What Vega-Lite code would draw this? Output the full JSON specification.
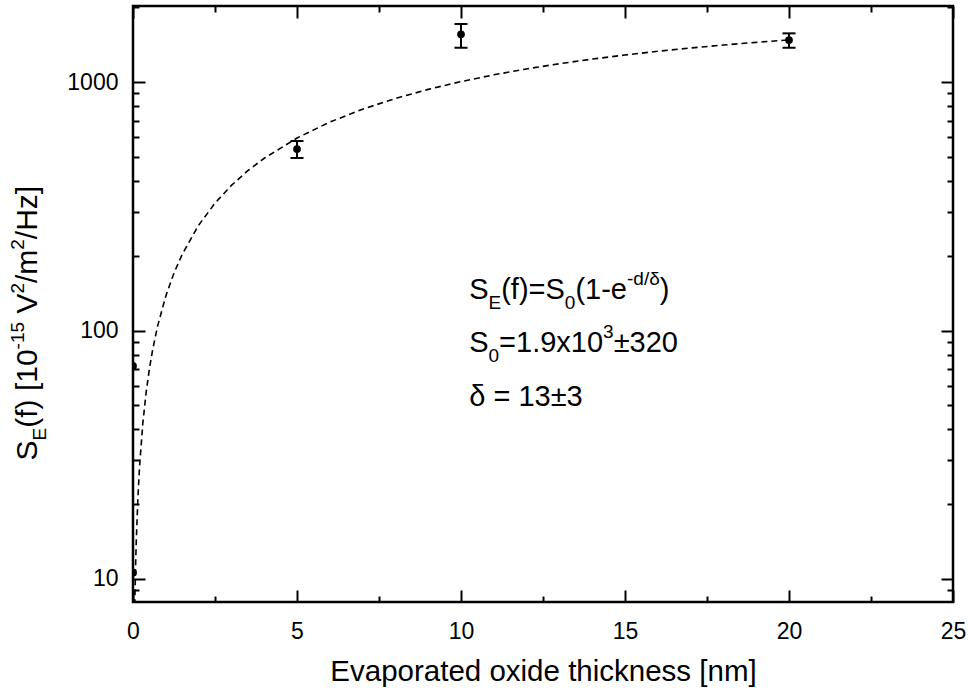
{
  "$schema": "https://vega.github.io/schema/vega-lite/v6.json",
  "width": 820,
  "height": 596,
  "autosize": {"type": "none"},
  "padding": {"left": 133, "top": 6, "right": 16, "bottom": 90},
  "background": "white",
  "data": {"values": [{}]},
  "datasets": {
    "fit": [
      {"d": 0.055, "s": 7.84}, {"d": 0.06, "s": 8.55}, {"d": 0.08, "s": 11.39}, {"d": 0.1, "s": 14.23},
      {"d": 0.15, "s": 21.31}, {"d": 0.2, "s": 28.36}, {"d": 0.3, "s": 42.38}, {"d": 0.4, "s": 56.29},
      {"d": 0.5, "s": 70.1}, {"d": 0.6, "s": 83.8}, {"d": 0.75, "s": 104.2}, {"d": 1, "s": 137.6},
      {"d": 1.25, "s": 170.4}, {"d": 1.5, "s": 202.6}, {"d": 2, "s": 265.3}, {"d": 2.5, "s": 325.6},
      {"d": 3, "s": 383.7}, {"d": 3.5, "s": 439.7}, {"d": 4, "s": 493.5}, {"d": 5, "s": 595.3},
      {"d": 6, "s": 689.9}, {"d": 7, "s": 777.5}, {"d": 8, "s": 858.8}, {"d": 9, "s": 934.2},
      {"d": 10, "s": 1004.1}, {"d": 11, "s": 1069.1}, {"d": 12, "s": 1129.2}, {"d": 13, "s": 1185.0},
      {"d": 14, "s": 1236.9}, {"d": 15, "s": 1284.9}, {"d": 16, "s": 1329.5}, {"d": 17, "s": 1370.8},
      {"d": 18, "s": 1409.2}, {"d": 19, "s": 1444.7}, {"d": 20, "s": 1477.7}
    ],
    "meas": [
      {"d": 0, "s": 72},
      {"d": 0, "s": 10.6},
      {"d": 5, "s": 537.6},
      {"d": 10, "s": 1556},
      {"d": 20, "s": 1476}
    ],
    "err": [
      {"d": 5, "lo": 494.6, "hi": 578.8},
      {"d": 10, "lo": 1374, "hi": 1712},
      {"d": 20, "lo": 1374, "hi": 1570}
    ]
  },
  "config": {
    "view": {"stroke": "black", "strokeWidth": 2.5},
    "font": "Liberation Sans",
    "axis": {
      "grid": false,
      "domain": false,
      "labelFont": "Liberation Sans",
      "labelColor": "black",
      "tickColor": "black",
      "tickWidth": 2,
      "titleFont": "Liberation Sans",
      "titleColor": "black"
    }
  },
  "resolve": {"axis": {"x": "independent", "y": "independent"}},
  "layer": [
    {
      "data": {"name": "fit"},
      "mark": {"type": "line", "color": "black", "strokeWidth": 1.6, "strokeDash": [6, 4], "clip": true},
      "encoding": {
        "x": {"field": "d", "type": "quantitative",
          "scale": {"domain": [0, 25], "nice": false, "zero": false},
          "axis": {"orient": "bottom", "values": [0, 5, 10, 15, 20, 25], "ticks": false, "labelFontSize": 23, "labelPadding": 18, "labelFlush": false, "labelOverlap": false,
            "title": "Evaporated oxide thickness [nm]", "titleFontSize": 29.5, "titleFontWeight": "normal", "titlePadding": 14}},
        "y": {"field": "s", "type": "quantitative",
          "scale": {"type": "log", "domain": [8.08, 2023], "nice": false, "zero": false},
          "axis": {"orient": "left", "values": [10, 100, 1000], "format": "d", "ticks": false, "labelFontSize": 23, "labelPadding": 15, "labelOverlap": false, "title": null}}
      }
    },
    {
      "data": {"name": "err"},
      "mark": {"type": "rule", "color": "black", "strokeWidth": 2},
      "encoding": {
        "x": {"field": "d", "type": "quantitative",
          "scale": {"domain": [0, 25], "nice": false, "zero": false},
          "axis": {"orient": "bottom", "values": [0, 5, 10, 15, 20, 25], "tickSize": -12, "labels": false, "title": null}},
        "y": {"field": "lo", "type": "quantitative",
          "scale": {"type": "log", "domain": [8.08, 2023], "nice": false, "zero": false},
          "axis": {"orient": "left", "values": [10, 100, 1000], "tickSize": -12, "labels": false, "title": null}},
        "y2": {"field": "hi"}
      }
    },
    {
      "data": {"name": "err"},
      "mark": {"type": "tick", "orient": "horizontal", "color": "black", "size": 13, "thickness": 2, "opacity": 1},
      "encoding": {
        "x": {"field": "d", "type": "quantitative",
          "scale": {"domain": [0, 25], "nice": false, "zero": false},
          "axis": {"orient": "bottom", "values": [2.5, 7.5, 12.5, 17.5, 22.5], "tickSize": -6, "labels": false, "title": null}},
        "y": {"field": "lo", "type": "quantitative",
          "scale": {"type": "log", "domain": [8.08, 2023], "nice": false, "zero": false},
          "axis": {"orient": "left", "values": [9, 20, 30, 40, 50, 60, 70, 80, 90, 200, 300, 400, 500, 600, 700, 800, 900, 2000], "tickSize": -6, "labels": false, "title": null}}
      }
    },
    {
      "data": {"name": "err"},
      "mark": {"type": "tick", "orient": "horizontal", "color": "black", "size": 13, "thickness": 2, "opacity": 1},
      "encoding": {
        "x": {"field": "d", "type": "quantitative",
          "scale": {"domain": [0, 25], "nice": false, "zero": false},
          "axis": {"orient": "top", "values": [2.5, 7.5, 12.5, 17.5, 22.5], "tickSize": -6, "labels": false, "title": null}},
        "y": {"field": "hi", "type": "quantitative",
          "scale": {"type": "log", "domain": [8.08, 2023], "nice": false, "zero": false},
          "axis": {"orient": "right", "values": [9, 20, 30, 40, 50, 60, 70, 80, 90, 200, 300, 400, 500, 600, 700, 800, 900, 2000], "tickSize": -6, "labels": false, "title": null}}
      }
    },
    {
      "data": {"name": "meas"},
      "mark": {"type": "circle", "color": "black", "size": 60, "opacity": 1, "clip": true},
      "encoding": {
        "x": {"field": "d", "type": "quantitative",
          "scale": {"domain": [0, 25], "nice": false, "zero": false},
          "axis": {"orient": "top", "values": [0, 5, 10, 15, 20, 25], "tickSize": -12, "labels": false, "title": null}},
        "y": {"field": "s", "type": "quantitative",
          "scale": {"type": "log", "domain": [8.08, 2023], "nice": false, "zero": false},
          "axis": {"orient": "right", "values": [10, 100, 1000], "tickSize": -12, "labels": false, "title": null}}
      }
    },
    {"mark": {"type": "text", "align": "left", "baseline": "alphabetic", "fontSize": 29, "color": "black", "dx": 0},
     "encoding": {"x": {"datum": 10.25, "axis": null}, "y": {"datum": 133.3, "axis": null}, "text": {"value": "S"}}},
    {"mark": {"type": "text", "align": "left", "baseline": "alphabetic", "fontSize": 19, "color": "black", "dx": 19.34, "dy": 10},
     "encoding": {"x": {"datum": 10.25, "axis": null}, "y": {"datum": 133.3, "axis": null}, "text": {"value": "E"}}},
    {"mark": {"type": "text", "align": "left", "baseline": "alphabetic", "fontSize": 29, "color": "black", "dx": 32.01},
     "encoding": {"x": {"datum": 10.25, "axis": null}, "y": {"datum": 133.3, "axis": null}, "text": {"value": "(f)=S"}}},
    {"mark": {"type": "text", "align": "left", "baseline": "alphabetic", "fontSize": 19, "color": "black", "dx": 95.67, "dy": 10},
     "encoding": {"x": {"datum": 10.25, "axis": null}, "y": {"datum": 133.3, "axis": null}, "text": {"value": "0"}}},
    {"mark": {"type": "text", "align": "left", "baseline": "alphabetic", "fontSize": 29, "color": "black", "dx": 106.23},
     "encoding": {"x": {"datum": 10.25, "axis": null}, "y": {"datum": 133.3, "axis": null}, "text": {"value": "(1-e"}}},
    {"mark": {"type": "text", "align": "left", "baseline": "alphabetic", "fontSize": 19, "color": "black", "dx": 157.79, "dy": -14},
     "encoding": {"x": {"datum": 10.25, "axis": null}, "y": {"datum": 133.3, "axis": null}, "text": {"value": "-d/δ"}}},
    {"mark": {"type": "text", "align": "left", "baseline": "alphabetic", "fontSize": 29, "color": "black", "dx": 190.53},
     "encoding": {"x": {"datum": 10.25, "axis": null}, "y": {"datum": 133.3, "axis": null}, "text": {"value": ")"}}},
    {"mark": {"type": "text", "align": "left", "baseline": "alphabetic", "fontSize": 29, "color": "black", "dx": 0},
     "encoding": {"x": {"datum": 10.25, "axis": null}, "y": {"datum": 82.3, "axis": null}, "text": {"value": "S"}}},
    {"mark": {"type": "text", "align": "left", "baseline": "alphabetic", "fontSize": 19, "color": "black", "dx": 19.34, "dy": 10},
     "encoding": {"x": {"datum": 10.25, "axis": null}, "y": {"datum": 82.3, "axis": null}, "text": {"value": "0"}}},
    {"mark": {"type": "text", "align": "left", "baseline": "alphabetic", "fontSize": 29, "color": "black", "dx": 29.9},
     "encoding": {"x": {"datum": 10.25, "axis": null}, "y": {"datum": 82.3, "axis": null}, "text": {"value": "=1.9x10"}}},
    {"mark": {"type": "text", "align": "left", "baseline": "alphabetic", "fontSize": 19, "color": "black", "dx": 133.9, "dy": -14},
     "encoding": {"x": {"datum": 10.25, "axis": null}, "y": {"datum": 82.3, "axis": null}, "text": {"value": "3"}}},
    {"mark": {"type": "text", "align": "left", "baseline": "alphabetic", "fontSize": 29, "color": "black", "dx": 144.46},
     "encoding": {"x": {"datum": 10.25, "axis": null}, "y": {"datum": 82.3, "axis": null}, "text": {"value": "±320"}}},
    {"mark": {"type": "text", "align": "left", "baseline": "alphabetic", "fontSize": 29, "color": "black", "dx": 0},
     "encoding": {"x": {"datum": 10.25, "axis": null}, "y": {"datum": 49.9, "axis": null}, "text": {"value": "δ = 13±3"}}},
    {"mark": {"type": "text", "align": "left", "baseline": "alphabetic", "angle": 270, "fontSize": 30, "color": "black", "dx": 0},
     "encoding": {"x": {"datum": -2.93, "axis": null}, "y": {"datum": 30, "axis": null}, "text": {"value": "S"}}},
    {"mark": {"type": "text", "align": "left", "baseline": "alphabetic", "angle": 270, "fontSize": 19, "color": "black", "dx": 20.01, "dy": 9},
     "encoding": {"x": {"datum": -2.93, "axis": null}, "y": {"datum": 30, "axis": null}, "text": {"value": "E"}}},
    {"mark": {"type": "text", "align": "left", "baseline": "alphabetic", "angle": 270, "fontSize": 30, "color": "black", "dx": 32.68},
     "encoding": {"x": {"datum": -2.93, "axis": null}, "y": {"datum": 30, "axis": null}, "text": {"value": "(f) [10"}}},
    {"mark": {"type": "text", "align": "left", "baseline": "alphabetic", "angle": 270, "fontSize": 19, "color": "black", "dx": 111.04, "dy": -13},
     "encoding": {"x": {"datum": -2.93, "axis": null}, "y": {"datum": 30, "axis": null}, "text": {"value": "-15"}}},
    {"mark": {"type": "text", "align": "left", "baseline": "alphabetic", "angle": 270, "fontSize": 30, "color": "black", "dx": 146.84},
     "encoding": {"x": {"datum": -2.93, "axis": null}, "y": {"datum": 30, "axis": null}, "text": {"value": "V"}}},
    {"mark": {"type": "text", "align": "left", "baseline": "alphabetic", "angle": 270, "fontSize": 19, "color": "black", "dx": 166.85, "dy": -13},
     "encoding": {"x": {"datum": -2.93, "axis": null}, "y": {"datum": 30, "axis": null}, "text": {"value": "2"}}},
    {"mark": {"type": "text", "align": "left", "baseline": "alphabetic", "angle": 270, "fontSize": 30, "color": "black", "dx": 177.41},
     "encoding": {"x": {"datum": -2.93, "axis": null}, "y": {"datum": 30, "axis": null}, "text": {"value": "/m"}}},
    {"mark": {"type": "text", "align": "left", "baseline": "alphabetic", "angle": 270, "fontSize": 19, "color": "black", "dx": 210.74, "dy": -13},
     "encoding": {"x": {"datum": -2.93, "axis": null}, "y": {"datum": 30, "axis": null}, "text": {"value": "2"}}},
    {"mark": {"type": "text", "align": "left", "baseline": "alphabetic", "angle": 270, "fontSize": 30, "color": "black", "dx": 221.3},
     "encoding": {"x": {"datum": -2.93, "axis": null}, "y": {"datum": 30, "axis": null}, "text": {"value": "/Hz]"}}}
  ]
}
